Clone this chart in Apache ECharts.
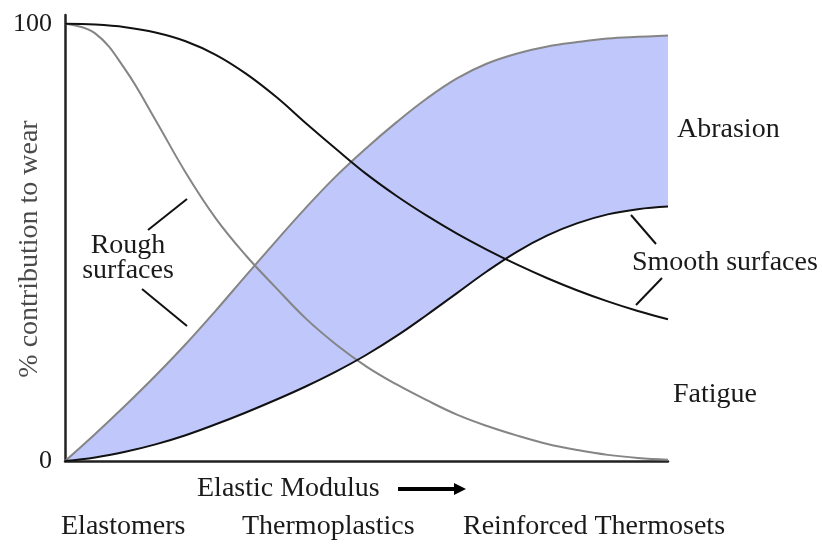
<!DOCTYPE html>
<html>
<head>
<meta charset="utf-8">
<script src="https://cdn.jsdelivr.net/npm/echarts@6/dist/echarts.min.js"></script>
<style>
  html, body { margin: 0; padding: 0; background: #fff; }
  #chart { width: 822px; height: 546px; }
</style>
</head>
<body>
<div id="chart"></div>
<script>
// position along the elastic modulus axis (0 = elastomers, 100 = reinforced thermosets)
var xs = [0, 5, 10, 15, 20, 25, 30, 35, 40, 45, 50, 55, 60, 65, 70, 75, 80, 85, 90, 95, 100];
// abrasion, rough surfaces (grey, upper edge of band)
var abrasionRough = [0, 6.2, 12.7, 19.5, 26.7, 34.4, 42.4, 50.3, 58.0, 65.2, 71.6, 77.5, 82.9, 87.5, 90.9, 93.2, 94.8, 95.8, 96.6, 97.0, 97.3];
// abrasion, smooth surfaces (black, lower edge of band)
var abrasionSmooth = [0, 0.8, 2.1, 3.8, 5.9, 8.4, 11.1, 14.0, 17.1, 20.5, 24.3, 28.6, 33.4, 38.4, 43.4, 47.9, 51.6, 54.4, 56.4, 57.6, 58.2];
// fatigue, smooth surfaces (black)
var fatigueSmooth = [100, 99.8, 99.2, 98.0, 96.0, 92.9, 88.6, 83.3, 77.2, 71.3, 65.6, 60.6, 56.1, 52.0, 48.3, 44.9, 41.8, 39.0, 36.5, 34.3, 32.4];
// fatigue, rough surfaces (grey)
var fatigueRough = [100, 97.8, 89.5, 78.0, 66.0, 55.5, 47.0, 39.6, 32.5, 26.6, 21.6, 17.5, 13.9, 10.6, 8.0, 5.8, 3.9, 2.5, 1.4, 0.7, 0.3];

var materials = ['Elastomers', 'Thermoplastics', 'Reinforced Thermosets'];
var yTicks = [0, 100];
var yTitle = '% contribution to wear';

var font = '"Liberation Serif", "DejaVu Serif", serif';
var grey = '#858585';
var black = '#111111';

var bandWidth = abrasionRough.map(function (v, i) { return +(v - abrasionSmooth[i]).toFixed(2); });

var chart = echarts.init(document.getElementById('chart'));

function txt(x, y, s, align, color) {
  return {
    type: 'text', x: x, y: y,
    style: {
      text: s, font: '28px ' + font, fill: color || '#1a1a1a',
      textAlign: align || 'left', textVerticalAlign: 'middle'
    }
  };
}
function seg(x1, y1, x2, y2) {
  return {
    type: 'line',
    shape: { x1: x1, y1: y1, x2: x2, y2: y2 },
    style: { stroke: black, lineWidth: 2 }
  };
}
function curve(name, data, color) {
  return {
    name: name, type: 'line', data: data, smooth: 0.4, symbol: 'none',
    lineStyle: { color: color, width: 2 }, z: 3
  };
}

var yName = txt(0, 0, yTitle, 'center', '#4a4a4a');
yName.x = 30;
yName.y = 249;
yName.rotation = Math.PI / 2;

var option = {
  animation: false,
  grid: { left: 65, right: 154, top: 15, bottom: 85, containLabel: false, outerBoundsMode: 'none' },
  xAxis: {
    type: 'category',
    data: xs,
    boundaryGap: false,
    axisLine: { lineStyle: { color: '#222', width: 2.5 } },
    axisTick: { show: false },
    axisLabel: { show: false },
    splitLine: { show: false }
  },
  yAxis: {
    type: 'value',
    min: 0,
    max: 102,
    interval: 100,
    axisLine: { show: true, lineStyle: { color: '#222', width: 2.5 } },
    axisTick: { show: false },
    splitLine: { show: false },
    axisLabel: {
      showMaxLabel: false,
      margin: 13,
      fontFamily: font, fontSize: 26, color: '#1a1a1a',
      formatter: function (v) { return yTicks.indexOf(v) >= 0 ? String(v) : ''; }
    }
  },
  series: [
    {
      name: 'band base', type: 'line', stack: 'band', data: abrasionSmooth,
      smooth: 0.4, symbol: 'none', lineStyle: { opacity: 0 }, silent: true, z: 1
    },
    {
      name: 'band', type: 'line', stack: 'band', data: bandWidth,
      smooth: 0.4, symbol: 'none', lineStyle: { opacity: 0 },
      areaStyle: { color: '#bfc7fb', opacity: 1 }, silent: true, z: 1
    },
    curve('Abrasion rough', abrasionRough, grey),
    curve('Fatigue rough', fatigueRough, grey),
    curve('Abrasion smooth', abrasionSmooth, black),
    curve('Fatigue smooth', fatigueSmooth, black)
  ],
  graphic: [
    yName,
    txt(677, 130, 'Abrasion'),
    txt(632, 263, 'Smooth surfaces'),
    txt(673, 395, 'Fatigue'),
    txt(128, 246, 'Rough', 'center'),
    txt(128, 271, 'surfaces', 'center'),
    seg(148, 230, 187, 199),
    seg(142, 289, 187, 326),
    seg(631, 215, 656, 244),
    seg(662, 278, 636, 305),
    txt(197, 489, 'Elastic Modulus'),
    {
      type: 'line', shape: { x1: 398, y1: 489, x2: 456, y2: 489 },
      style: { stroke: '#000', lineWidth: 4 }
    },
    {
      type: 'polygon', shape: { points: [[454, 483], [466, 489], [454, 495]] },
      style: { fill: '#000' }
    },
    txt(61, 527, materials[0]),
    txt(242, 527, materials[1]),
    txt(463, 527, materials[2])
  ]
};

chart.setOption(option);
</script>
</body>
</html>
